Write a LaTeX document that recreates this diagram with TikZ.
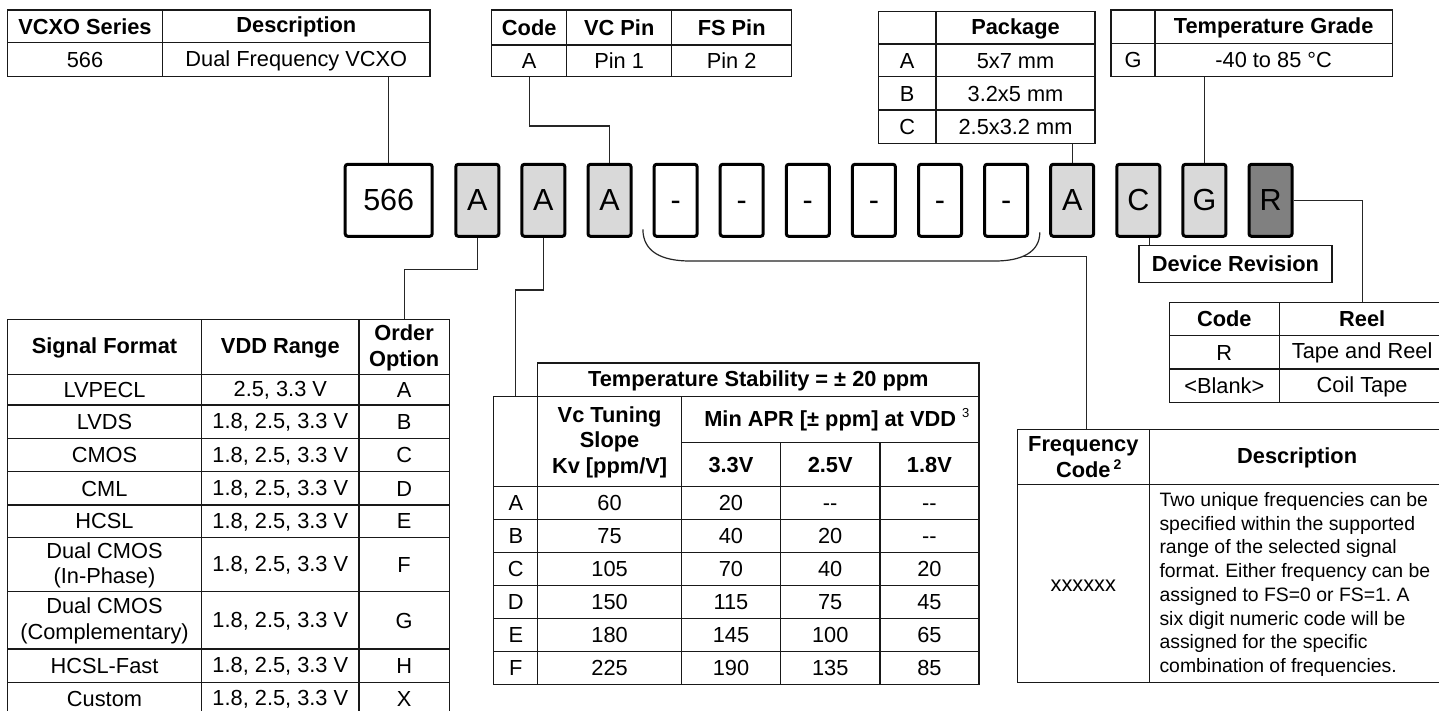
\documentclass[tikz,border=0pt]{standalone}
\usepackage{fontspec}
\setmainfont{Liberation Sans}
\frenchspacing
\definecolor{boxgray}{HTML}{D9D9D9}
\definecolor{darkbox}{HTML}{808080}
\newcommand{\fsz}{\fontsize{21.8}{25.8}\selectfont}
\newcommand{\cs}{\rule[-2pt]{0pt}{19.4pt}}
\newcommand{\cell}[7][]{\node[cellst,#1,minimum width={#5-#3},minimum height={#6-#4}] (#2) at ({(#3+#5)/2},{(#4+#6)/2}) {\cs #7};}
\begin{document}
\begin{tikzpicture}[x=1pt,y=-1pt,
  cellst/.style={draw=black!90, line width=1.3pt, inner sep=0pt, align=center, font=\fsz, text=black},
  hd/.style={font=\fsz\bfseries},
  codebox/.style={draw=black, line width=3pt, rounded corners=2.5pt, minimum width=43pt, minimum height=72pt, inner sep=0pt, font=\fontsize{30.5}{30.5}\selectfont},
  conn/.style={draw=black!85, line width=1.2pt},
  plainbox/.style={draw=black!90, line width=1.3pt, inner sep=0pt, font=\fsz\bfseries}]
\fill[white] (0,0) rectangle (1439,711);
\useasboundingbox (0,0) rectangle (1439,711);

% ---- code boxes ----
\node[codebox, minimum width=87pt] (b566) at (388.7,200.3) {\vphantom{A}566};
\node[codebox, fill=boxgray] (bA1) at (477.3,200.3) {\vphantom{A}A};
\node[codebox, fill=boxgray] (bA2) at (543.4,200.3) {\vphantom{A}A};
\node[codebox, fill=boxgray] (bA3) at (609.5,200.3) {\vphantom{A}A};
\node[codebox] (d1) at (675.6,200.3) {\vphantom{A}-};
\node[codebox] (d2) at (741.7,200.3) {\vphantom{A}-};
\node[codebox] (d3) at (807.8,200.3) {\vphantom{A}-};
\node[codebox] (d4) at (873.9,200.3) {\vphantom{A}-};
\node[codebox] (d5) at (940.0,200.3) {\vphantom{A}-};
\node[codebox] (d6) at (1006.1,200.3) {\vphantom{A}-};
\node[codebox, fill=boxgray] (bPk) at (1072.2,200.3) {\vphantom{A}A};
\node[codebox, fill=boxgray] (bC) at (1138.3,200.3) {\vphantom{A}C};
\node[codebox, fill=boxgray] (bG) at (1204.4,200.3) {\vphantom{A}G};
\node[codebox, fill=darkbox] (bR) at (1270.5,200.3) {\vphantom{A}R};

% ---- VCXO series table ----
\cell[hd]{vH1}{7.3}{10}{162.7}{42.7}{VCXO Series}
\cell[hd]{vH2}{162.7}{10}{430}{42.7}{Description}
\cell{v1}{7.3}{42.7}{162.7}{76.7}{566}
\cell{v2}{162.7}{42.7}{430}{76.7}{Dual Frequency VCXO}

% ---- pin table ----
\cell[hd]{cH1}{491.7}{10}{566.7}{45}{Code}
\cell[hd]{cH2}{566.7}{10}{671.7}{45}{VC Pin}
\cell[hd]{cH3}{671.7}{10}{791.7}{45}{FS Pin}
\cell{c1}{491.7}{45}{566.7}{76.7}{A}
\cell{c2}{566.7}{45}{671.7}{76.7}{Pin 1}
\cell{c3}{671.7}{45}{791.7}{76.7}{Pin 2}

% ---- package table ----
\cell{pH1}{878.3}{11.7}{936}{44}{}
\cell[hd]{pH2}{936}{11.7}{1095}{44}{Package}
\cell{pA1}{878.3}{44}{936}{76.7}{A}
\cell{pA2}{936}{44}{1095}{76.7}{5x7 mm}
\cell{pB1}{878.3}{76.7}{936}{110}{B}
\cell{pB2}{936}{76.7}{1095}{110}{3.2x5 mm}
\cell{pC1}{878.3}{110}{936}{143.3}{C}
\cell{pC2}{936}{110}{1095}{143.3}{2.5x3.2 mm}

% ---- temperature grade table ----
\cell{gH1}{1111}{10}{1155}{43.3}{}
\cell[hd]{gH2}{1155}{10}{1392.3}{43.3}{Temperature Grade}
\cell{g1}{1111}{43.3}{1155}{76.7}{G}
\cell{g2}{1155}{43.3}{1392.3}{76.7}{-40 to 85 °C}

% ---- signal format table ----
\cell[hd]{sH1}{7.3}{319.3}{201.7}{374.3}{Signal Format}
\cell[hd]{sH2}{201.7}{319.3}{359}{374.3}{VDD Range}
\cell[hd]{sH3}{359}{319.3}{449.3}{374.3}{Order\\\cs Option}
\cell{sA1}{7.3}{374.3}{201.7}{405}{LVPECL}
\cell{sA2}{201.7}{374.3}{359}{405}{2.5, 3.3 V}
\cell{sA3}{359}{374.3}{449.3}{405}{A}
\cell{sB1}{7.3}{405}{201.7}{438.3}{LVDS}
\cell{sB2}{201.7}{405}{359}{438.3}{1.8, 2.5, 3.3 V}
\cell{sB3}{359}{405}{449.3}{438.3}{B}
\cell{sC1}{7.3}{438.3}{201.7}{471.7}{CMOS}
\cell{sC2}{201.7}{438.3}{359}{471.7}{1.8, 2.5, 3.3 V}
\cell{sC3}{359}{438.3}{449.3}{471.7}{C}
\cell{sD1}{7.3}{471.7}{201.7}{505}{CML}
\cell{sD2}{201.7}{471.7}{359}{505}{1.8, 2.5, 3.3 V}
\cell{sD3}{359}{471.7}{449.3}{505}{D}
\cell{sE1}{7.3}{505}{201.7}{537.3}{HCSL}
\cell{sE2}{201.7}{505}{359}{537.3}{1.8, 2.5, 3.3 V}
\cell{sE3}{359}{505}{449.3}{537.3}{E}
\cell{sF1}{7.3}{537.3}{201.7}{591.7}{Dual CMOS\\\cs (In-Phase)}
\cell{sF2}{201.7}{537.3}{359}{591.7}{1.8, 2.5, 3.3 V}
\cell{sF3}{359}{537.3}{449.3}{591.7}{F}
\cell{sG1}{7.3}{591.7}{201.7}{649}{Dual CMOS\\\cs (Complementary)}
\cell{sG2}{201.7}{591.7}{359}{649}{1.8, 2.5, 3.3 V}
\cell{sG3}{359}{591.7}{449.3}{649}{G}
\cell{sH1r}{7.3}{649}{201.7}{682.3}{HCSL-Fast}
\cell{sH2r}{201.7}{649}{359}{682.3}{1.8, 2.5, 3.3 V}
\cell{sH3r}{359}{649}{449.3}{682.3}{H}
\cell{sX1}{7.3}{682.3}{201.7}{715}{Custom}
\cell{sX2}{201.7}{682.3}{359}{715}{1.8, 2.5, 3.3 V}
\cell{sX3}{359}{682.3}{449.3}{715}{X}

% ---- temperature stability table ----
\cell[hd]{tTop}{537.8}{363.1}{978.9}{396.6}{Temperature Stability = ± 20 ppm}
\cell{tCorner}{493.8}{396.6}{537.8}{486.5}{}
\cell[hd]{tKv}{537.8}{396.6}{681.4}{486.5}{Vc Tuning\\\cs Slope\\\cs Kv [ppm/V]}
\cell[hd]{tApr}{681.4}{396.6}{978.9}{442.2}{Min APR [± ppm] at VDD\rlap{\hspace{6pt}\raisebox{9pt}{\fontsize{13}{13}\selectfont\mdseries 3}}}
\cell[hd]{t33}{681.4}{442.2}{780.5}{486.5}{3.3V}
\cell[hd]{t25}{780.5}{442.2}{879.9}{486.5}{2.5V}
\cell[hd]{t18}{879.9}{442.2}{978.9}{486.5}{1.8V}
\newcommand{\trow}[7]{%
\cell{#1a}{493.8}{#2}{537.8}{#3}{#4}%
\cell{#1b}{537.8}{#2}{681.4}{#3}{#5}%
\cell{#1c}{681.4}{#2}{780.5}{#3}{#6}%
\cell{#1d}{780.5}{#2}{879.9}{#3}{#7}}
\newcommand{\trowe}[3]{\cell{#1e}{879.9}{#2}{978.9}{#3}}
\newcommand{\dd}{{-}{-}}
\trow{rA}{486.5}{519.5}{A}{60}{20}{\dd}\trowe{rA}{486.5}{519.5}{\dd}
\trow{rB}{519.5}{552.5}{B}{75}{40}{20}\trowe{rB}{519.5}{552.5}{\dd}
\trow{rC}{552.5}{585.5}{C}{105}{70}{40}\trowe{rC}{552.5}{585.5}{20}
\trow{rD}{585.5}{618.4}{D}{150}{115}{75}\trowe{rD}{585.5}{618.4}{45}
\trow{rE}{618.4}{651.4}{E}{180}{145}{100}\trowe{rE}{618.4}{651.4}{65}
\trow{rF}{651.4}{684.4}{F}{225}{190}{135}\trowe{rF}{651.4}{684.4}{85}

% ---- device revision ----
\node[plainbox, minimum width=193pt, minimum height=37pt] (devrev) at (1235.4,264) {\cs Device Revision};

% ---- reel table ----
\cell[hd]{rlH1}{1169.3}{302.7}{1279.3}{335.7}{Code}
\cell[hd]{rlH2}{1279.3}{302.7}{1445}{335.7}{Reel}
\cell{rl11}{1169.3}{335.7}{1279.3}{369}{R}
\cell{rl12}{1279.3}{335.7}{1445}{369}{Tape and Reel}
\cell{rl21}{1169.3}{369}{1279.3}{402.3}{<Blank>}
\cell{rl22}{1279.3}{369}{1445}{402.3}{Coil Tape}

% ---- frequency table ----
\cell[hd]{fH1}{1017.3}{429.3}{1149.3}{484.3}{Frequency\\\cs Code\rlap{\hspace{3pt}\raisebox{8pt}{\fontsize{14}{14}\selectfont 2}}}
\cell[hd]{fH2}{1149.3}{429.3}{1445}{484.3}{Description}
\cell{f1}{1017.3}{484.3}{1149.3}{682.7}{xxxxxx}
\cell{f2}{1149.3}{484.3}{1445}{682.7}{}
\node[anchor=west, align=left, inner sep=0pt, font=\fontsize{19.4}{23.7}\selectfont] (fdesc) at (1159.3,584.5)
 {Two unique frequencies can be\\specified within the supported\\range of the selected signal\\format. Either frequency can be\\assigned to FS=0 or FS=1. A\\six digit numeric code will be\\assigned for the specific\\combination of frequencies.};

% ---- connectors ----
\draw[conn] (b566.north) -- (b566.north |- v2.south);
\coordinate (j1) at (529.2,126);
\draw[conn] (c1.south) -- (j1) -| (bA3.north);
\draw[conn] (bPk.north) -- (bPk.north |- pC2.south);
\draw[conn] (bG.north) -- (bG.north |- g2.south);
\draw[conn] (bR.east) -| (rlH2.north);
\coordinate (cj) at ([xshift=11pt]bC.south);
\draw[conn] (cj) -- (cj |- devrev.north);
\coordinate (j2) at (477.3,269.3);
\draw[conn] (bA1.south) -- (j2) -| (sH3.north);
\coordinate (j3) at (543.4,290);
\draw[conn] (bA2.south) -- (j3) -| (tCorner.north);
% brace
\coordinate (brL) at (642.9,229.3);
\coordinate (brR) at (1039.8,232.3);
\draw[conn] (brL) .. controls (643,252) and (662,261) .. (690,261) -- (995,261) .. controls (1022,261) and (1039.8,252) .. (brR);
\coordinate (brJ) at (1022.4,256.6);
\coordinate (fj) at (1086.7,256.6);
\draw[conn] (brJ) -- (fj) -- (fj |- fH1.north);
\end{tikzpicture}
\end{document}
